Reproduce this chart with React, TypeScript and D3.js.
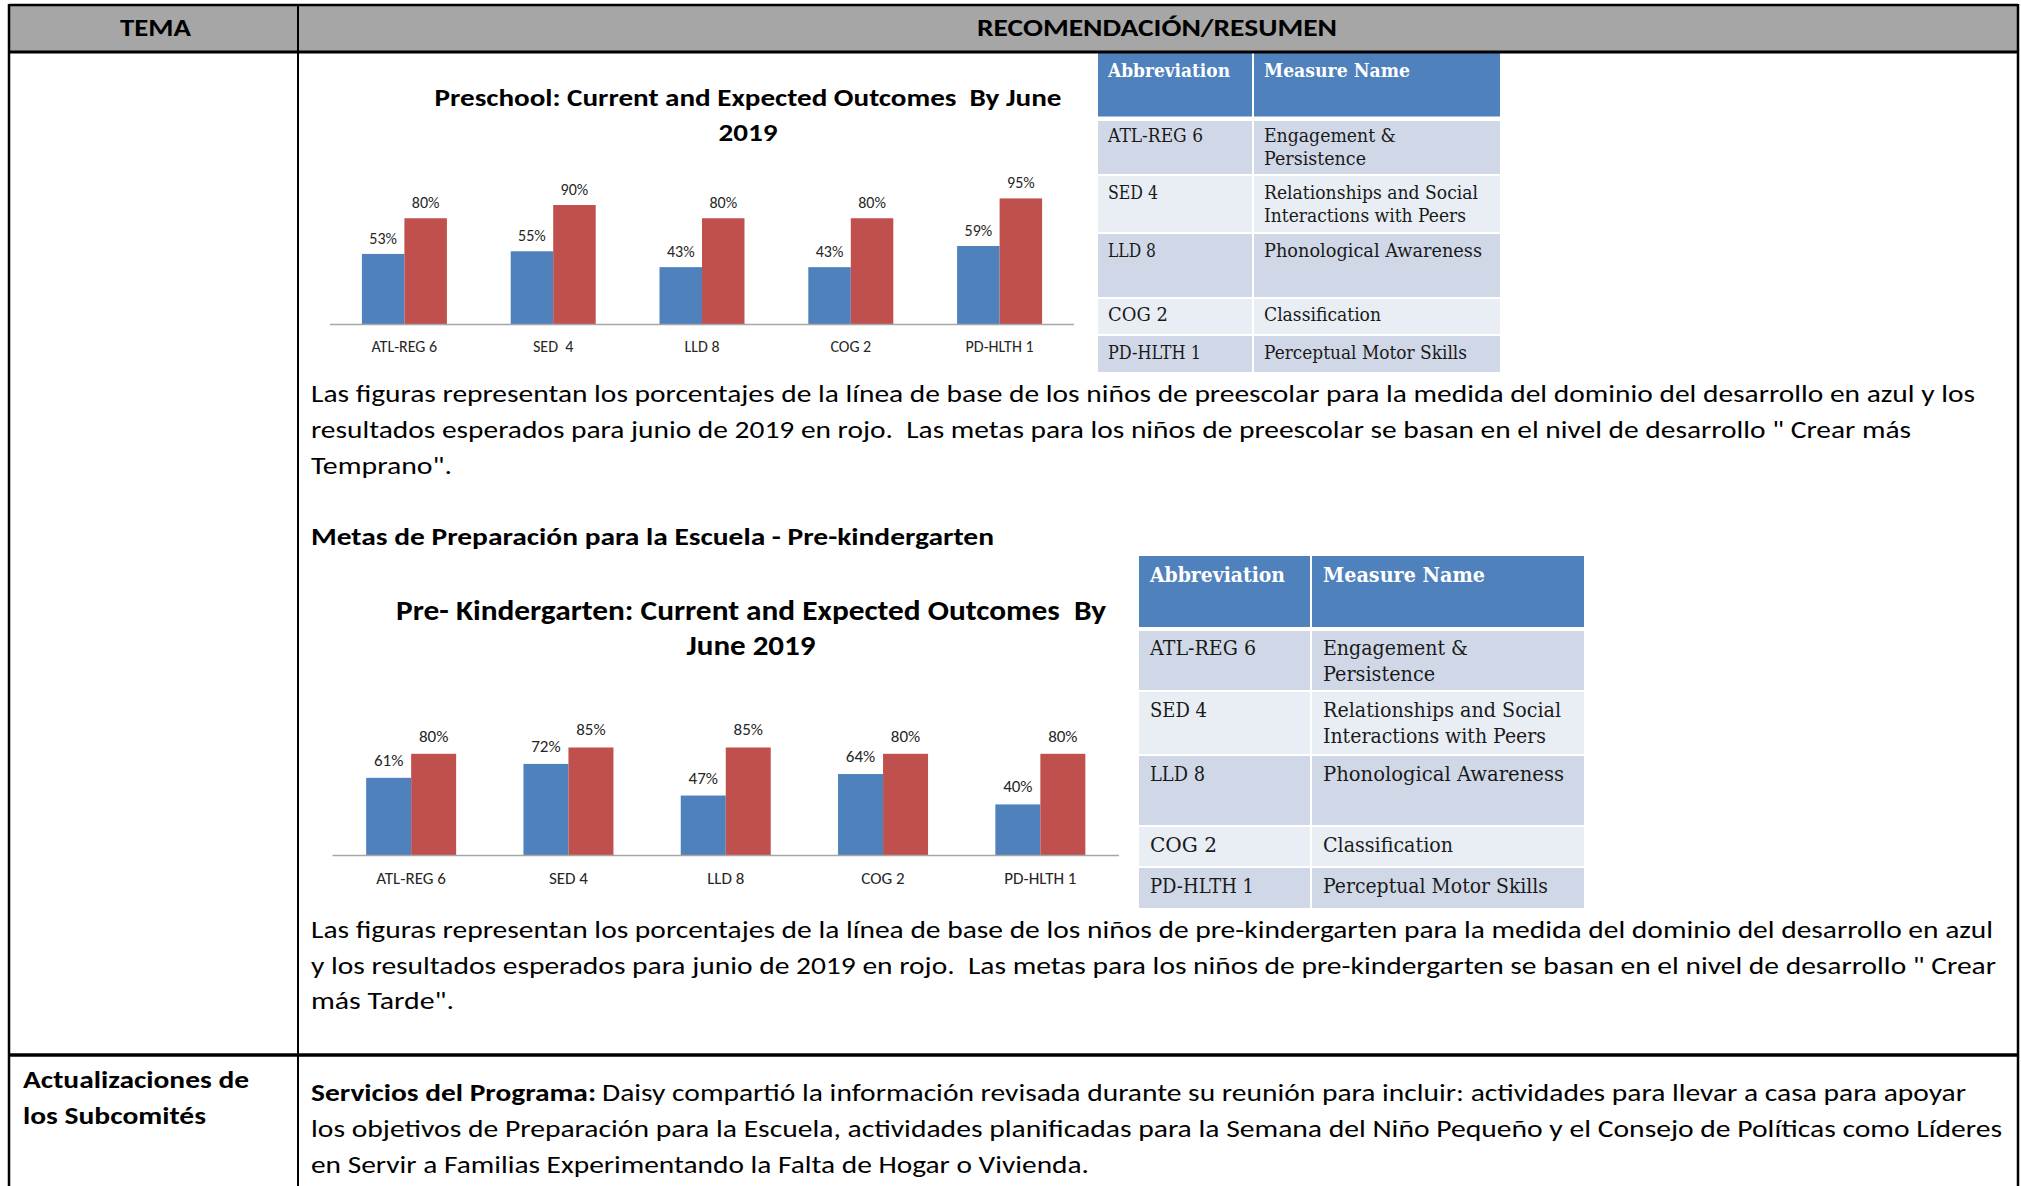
import React from 'react';
import * as d3 from 'd3';

// Chart data
const preschoolCategories = ['ATL-REG 6', 'SED  4', 'LLD 8', 'COG 2', 'PD-HLTH 1'];
const preschoolCurrent = [53, 55, 43, 43, 59];
const preschoolExpected = [80, 90, 80, 80, 95];

const prekCategories = ['ATL-REG 6', 'SED 4', 'LLD 8', 'COG 2', 'PD-HLTH 1'];
const prekCurrent = [61, 72, 47, 64, 40];
const prekExpected = [80, 85, 85, 80, 80];

const tableHeaders = ['Abbreviation', 'Measure Name'];
const abbreviations = ['ATL-REG 6', 'SED 4', 'LLD 8', 'COG 2', 'PD-HLTH 1'];
const measureNames = [
  ['Engagement &', 'Persistence'],
  ['Relationships and Social', 'Interactions with Peers'],
  ['Phonological Awareness'],
  ['Classification'],
  ['Perceptual Motor Skills'],
];

const BLUE = '#4f81bd';
const RED = '#c0504d';
const CALIBRI = "Carlito, Calibri, 'Liberation Sans Narrow', 'Open Sans', sans-serif";
const SLAB = "'DejaVu Serif', 'Liberation Serif', serif";

interface ChartProps {
  categories: string[];
  current: number[];
  expected: number[];
  title: string[];
  titleWidths: number[];
  titleBaselines: number[];
  titleX: number;
  titleSize: number;
  left: number;
  right: number;
  base: number;
  pxPerPct: number;
  barW: number;
  labelSize: number;
  labelGap: number;
  catY: number;
}

const OutcomeChart: React.FC<ChartProps> = (p) => {
  const x = d3.scaleBand<string>().domain(p.categories).range([p.left, p.right]).padding(0);
  const sub = d3.scaleBand<string>().domain(['current', 'expected']).range([-p.barW, p.barW]);
  const y = d3.scaleLinear().domain([0, 100]).range([p.base, p.base - 100 * p.pxPerPct]);
  const series = [
    { key: 'current', values: p.current, color: BLUE },
    { key: 'expected', values: p.expected, color: RED },
  ];
  const cx = (c: string) => (x(c) || 0) + x.bandwidth() / 2;

  return (
    <g>
      {p.title.map((t, i) => (
        <text key={i} x={p.titleX} y={p.titleBaselines[i]} textAnchor="middle" fontFamily={CALIBRI}
          fontWeight="bold" fontSize={p.titleSize} fill="#000" style={{ whiteSpace: 'pre' }}
          textLength={p.titleWidths[i]} lengthAdjust="spacingAndGlyphs">{t}</text>
      ))}
      {series.map((s) =>
        p.categories.map((c, i) => (
          <rect key={s.key + c} x={cx(c) + (sub(s.key) || 0)} y={y(s.values[i])}
            width={sub.bandwidth()} height={p.base - y(s.values[i])} fill={s.color} />
        ))
      )}
      {series.map((s) =>
        p.categories.map((c, i) => (
          <text key={'l' + s.key + c} x={cx(c) + (sub(s.key) || 0) + sub.bandwidth() / 2}
            y={y(s.values[i]) - p.labelGap} textAnchor="middle" fontFamily={CALIBRI}
            fontSize={p.labelSize} fill="#262626">{`${s.values[i]}%`}</text>
        ))
      )}
      <line x1={p.left} x2={p.right} y1={p.base + 0.5} y2={p.base + 0.5} stroke="#a6a6a6" strokeWidth={1.5} />
      {p.categories.map((c) => (
        <text key={'c' + c} x={cx(c)} y={p.catY} textAnchor="middle" fontFamily={CALIBRI}
          fontSize={p.labelSize} fill="#262626" style={{ whiteSpace: 'pre' }}>{c}</text>
      ))}
    </g>
  );
};

interface TableProps {
  left: number;
  divider: number;
  right: number;
  rows: [number, number][];
  header: [number, number];
  headerBaseline: number;
  baselines: number[];
  lineGap: number;
  pad: number;
  headSize: number;
  fontSize: number;
  headWidths: number[];
  abbrWidths: number[];
  nameWidths: number[][];
}

const MeasureTable: React.FC<TableProps> = (t) => {
  const col2 = t.divider + 2;
  return (
    <g>
      <rect x={t.left} y={t.header[0]} width={t.divider - t.left} height={t.header[1] - t.header[0]} fill={BLUE} />
      <rect x={col2} y={t.header[0]} width={t.right - col2} height={t.header[1] - t.header[0]} fill={BLUE} />
      <text x={t.left + t.pad} y={t.headerBaseline} fontFamily={SLAB} fontWeight="bold" fontSize={t.headSize}
        fill="#fff" textLength={t.headWidths[0]} lengthAdjust="spacingAndGlyphs">{tableHeaders[0]}</text>
      <text x={col2 + t.pad} y={t.headerBaseline} fontFamily={SLAB} fontWeight="bold" fontSize={t.headSize}
        fill="#fff" textLength={t.headWidths[1]} lengthAdjust="spacingAndGlyphs">{tableHeaders[1]}</text>
      {t.rows.map(([y0, y1], i) => {
        const fill = i % 2 === 0 ? '#d0d8e8' : '#e9edf4';
        return (
          <g key={i}>
            <rect x={t.left} y={y0} width={t.divider - t.left} height={y1 - y0} fill={fill} />
            <rect x={col2} y={y0} width={t.right - col2} height={y1 - y0} fill={fill} />
            <text x={t.left + t.pad} y={t.baselines[i]} fontFamily={SLAB} fontSize={t.fontSize} fill="#1a1a1a"
              textLength={t.abbrWidths[i]} lengthAdjust="spacingAndGlyphs">
              {abbreviations[i]}
            </text>
            {measureNames[i].map((m, j) => (
              <text key={j} x={col2 + t.pad} y={t.baselines[i] + j * t.lineGap} fontFamily={SLAB}
                fontSize={t.fontSize} fill="#1a1a1a" textLength={t.nameWidths[i][j]}
                lengthAdjust="spacingAndGlyphs">{m}</text>
            ))}
          </g>
        );
      })}
    </g>
  );
};

const Line: React.FC<{ x: number; y: number; w: number; bold?: boolean; size?: number; children: string }> = ({
  x, y, w, bold, size = 24, children,
}) => (
  <text x={x} y={y} fontFamily={CALIBRI} fontSize={size} fontWeight={bold ? 'bold' : 'normal'} fill="#000"
    textLength={w} lengthAdjust="spacingAndGlyphs" style={{ whiteSpace: 'pre' }}>{children}</text>
);

export default function App() {
  const W = 2021;
  const H = 1186;
  const colX = 298;
  return (
    <svg width={W} height={H} style={{ position: 'absolute', left: 0, top: 0, background: '#fff' }}>
      <rect x={0} y={0} width={W} height={H} fill="#fff" />
      {/* header band */}
      <rect x={9} y={5} width={2009} height={47} fill="#a6a6a6" />
      <Line x={120} y={36} w={71} bold size={25}>TEMA</Line>
      <Line x={977} y={36} w={360} bold size={25}>RECOMENDACIÓN/RESUMEN</Line>

      <OutcomeChart categories={preschoolCategories} current={preschoolCurrent} expected={preschoolExpected}
        title={['Preschool: Current and Expected Outcomes  By June', '2019']} titleWidths={[627, 59]}
        titleBaselines={[106, 141]} titleX={748} titleSize={25} left={330} right={1074} base={324}
        pxPerPct={1.322} barW={42.5} labelSize={16} labelGap={10} catY={352} />

      <MeasureTable left={1098} divider={1252} right={1500} header={[52.5, 116.5]}
        rows={[[121, 174], [176, 232], [234, 297], [299, 334], [336, 372]]} headerBaseline={77}
        baselines={[142, 199, 257, 321, 359]} lineGap={23.3} pad={10} headSize={18.5} fontSize={18}
        headWidths={[122, 146]} abbrWidths={[95, 50, 48, 60, 93]}
        nameWidths={[[132, 102], [214, 202], [218], [117], [203]]} />

      <Line x={311} y={402} w={1664}>Las figuras representan los porcentajes de la línea de base de los niños de preescolar para la medida del dominio del desarrollo en azul y los</Line>
      <Line x={311} y={438} w={1600}>resultados esperados para junio de 2019 en rojo.  Las metas para los niños de preescolar se basan en el nivel de desarrollo " Crear más</Line>
      <Line x={311} y={474} w={141}>Temprano".</Line>
      <Line x={311} y={545} w={683} bold>Metas de Preparación para la Escuela - Pre-kindergarten</Line>

      <OutcomeChart categories={prekCategories} current={prekCurrent} expected={prekExpected}
        title={['Pre- Kindergarten: Current and Expected Outcomes  By', 'June 2019']} titleWidths={[710, 129]}
        titleBaselines={[619.5, 655]} titleX={751} titleSize={28} left={332.5} right={1119} base={855}
        pxPerPct={1.265} barW={45} labelSize={17} labelGap={12} catY={884} />

      <MeasureTable left={1139} divider={1310} right={1584} header={[556, 627]}
        rows={[[631, 690], [692, 754], [756, 825], [827, 866], [868, 908]]} headerBaseline={582}
        baselines={[655, 717, 781, 852, 893]} lineGap={25.8} pad={11} headSize={20.5} fontSize={20}
        headWidths={[135, 162]} abbrWidths={[106, 57, 55, 67, 104]}
        nameWidths={[[145, 112], [238, 223], [241], [130], [225]]} />

      <Line x={311} y={938} w={1682}>Las figuras representan los porcentajes de la línea de base de los niños de pre-kindergarten para la medida del dominio del desarrollo en azul</Line>
      <Line x={311} y={974} w={1685}>y los resultados esperados para junio de 2019 en rojo.  Las metas para los niños de pre-kindergarten se basan en el nivel de desarrollo " Crear</Line>
      <Line x={311} y={1009} w={143}>más Tarde".</Line>

      <Line x={23} y={1088} w={226} bold>Actualizaciones de</Line>
      <Line x={23} y={1124} w={183} bold>los Subcomités</Line>
      <Line x={311} y={1101} w={285} bold>Servicios del Programa:</Line>
      <Line x={602} y={1101} w={1364}>Daisy compartió la información revisada durante su reunión para incluir: actividades para llevar a casa para apoyar</Line>
      <Line x={311} y={1137} w={1691}>los objetivos de Preparación para la Escuela, actividades planificadas para la Semana del Niño Pequeño y el Consejo de Políticas como Líderes</Line>
      <Line x={311} y={1173} w={778}>en Servir a Familias Experimentando la Falta de Hogar o Vivienda.</Line>

      {/* table rules */}
      <g stroke="#000" fill="none">
        <line x1={9} x2={2018} y1={5} y2={5} strokeWidth={2.5} />
        <line x1={9} x2={2018} y1={52} y2={52} strokeWidth={3} />
        <line x1={9} x2={2018} y1={1055} y2={1055} strokeWidth={3.5} />
        <line x1={9} x2={9} y1={4} y2={H} strokeWidth={2.5} />
        <line x1={2018} x2={2018} y1={4} y2={H} strokeWidth={2.5} />
        <line x1={colX} x2={colX} y1={4} y2={H} strokeWidth={2} />
      </g>
    </svg>
  );
}
